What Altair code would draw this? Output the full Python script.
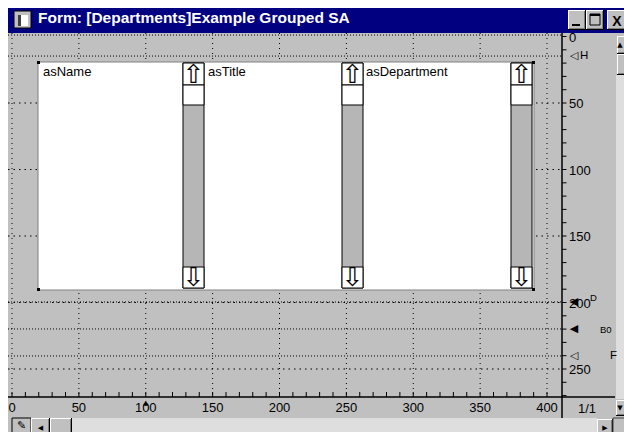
import altair as alt
import pandas as pd

# ---------------- data (form designer, ruler units) ----------------
title_text = "Form: [Departments]Example Grouped SA"
field_names = ["asName", "asTitle", "asDepartment"]
x_ruler_labels = [0, 50, 100, 150, 200, 250, 300, 350, 400]
y_ruler_labels = [0, 50, 100, 150, 200, 250]
x_ruler_ticks = list(range(0, 401, 10))
y_ruler_ticks = list(range(0, 271, 10))
section_names = ["H", "D", "B0", "F"]
section_pos = [14.7, 199.6, 219.9, 240.2]
section_markers = ["\u25c1", "\u25c0", "\u25c0", "\u25c1"]
page_label = "1/1"

# ---------------- layout: screen pixels -> ruler units ----------------
X0, SX = 12.0, 1.3375
Y0, SY = 36.5, 1.33


def ux(px):
    return (px - X0) / SX


def vy(py):
    return (py - Y0) / SY


W, H = 616, 424
xs = alt.Scale(domain=[ux(8), ux(8 + W)], nice=False, zero=False)
ys = alt.Scale(domain=[vy(8), vy(8 + H)], nice=False, zero=False, reverse=True)

FACE = "#c0c0c0"
DARK = "#808080"
DITHER = "#dedede"
TRACK = "#b6b6b6"
NAVY = "#000080"

# list box columns (pixels)
col_label_px = [43, 208, 366]
col_sb_px = [(183, 204), (342, 363), (511, 532)]
# section label placement (pixels): x, baseline, size
section_label_px = [(580, 59, 12), (590, 301, 10), (600, 333, 9), (610, 359, 11)]


def R(x0, y0, x1, y1, fill, stroke="transparent", sw=0):
    return dict(x=ux(x0), x2=ux(x1), y=vy(y0), y2=vy(y1), fill=fill, stroke=stroke, sw=sw)


def button(x0, y0, x1, y1):
    return [R(x0, y0, x1, y1, FACE),
            R(x0, y0, x1, y0 + 1, "#ffffff"), R(x0, y0, x0 + 1, y1, "#ffffff"),
            R(x0 + 1, y1 - 2, x1 - 1, y1 - 1, DARK), R(x1 - 2, y0 + 1, x1 - 1, y1 - 1, DARK),
            R(x0, y1 - 1, x1, y1, "#000000"), R(x1 - 1, y0, x1, y1, "#000000")]


def rect_layer(rows):
    df = pd.DataFrame(rows)
    df["i"] = range(len(df))
    return alt.Chart(df).mark_rect().encode(
        x=alt.X("x:Q", scale=xs, axis=None), x2="x2",
        y=alt.Y("y:Q", scale=ys, axis=None), y2="y2",
        fill=alt.Fill("fill:N", scale=None),
        stroke=alt.Stroke("stroke:N", scale=None),
        strokeWidth=alt.StrokeWidth("sw:Q", scale=None),
    )


def rule_layer(rows, **kw):
    df = pd.DataFrame(rows, columns=["x", "y", "x2", "y2", "c", "w"])
    return alt.Chart(df).mark_rule(**kw).encode(
        x=alt.X("x:Q", scale=xs, axis=None), x2="x2",
        y=alt.Y("y:Q", scale=ys, axis=None), y2="y2",
        color=alt.Color("c:N", scale=None),
        strokeWidth=alt.StrokeWidth("w:Q", scale=None),
    )


def text_layer(rows, size, color="#000000", font="Liberation Sans", weight="normal",
               align="left", baseline="alphabetic"):
    df = pd.DataFrame(rows, columns=["x", "y", "t"])
    return alt.Chart(df).mark_text(font=font, fontSize=size, color=color, fontWeight=weight,
                                   align=align, baseline=baseline).encode(
        x=alt.X("x:Q", scale=xs, axis=None), y=alt.Y("y:Q", scale=ys, axis=None), text="t:N")


# ---------------- grid ----------------
grid_v = rule_layer([(u, vy(33), u, vy(397), "#000000", 1) for u in x_ruler_labels],
                    strokeDash=[1, 4])
grid_h = rule_layer([(ux(8), v, ux(562), v, "#000000", 1) for v in y_ruler_labels[1:]],
                    strokeDash=[1.5, 4])
band_lines = rule_layer([(ux(8), v, ux(562), v, "#000000", 1) for v in [-1.1] + section_pos],
                        strokeDash=[1, 2])

# ---------------- controls and window chrome ----------------
main = [R(38, 62, 534, 290, "#ffffff", DARK, 1)]
for a, b in col_sb_px:
    main += [R(a, 63, b, 288, TRACK, "#000000", 1),
             R(a, 63, b, 85, "#ffffff", "#000000", 1),
             R(a, 85, b, 105, "#ffffff", "#000000", 1),
             R(a, 267, b, 288, "#ffffff", "#000000", 1)]
main += [R(37, 61, 40, 64, "#000000"), R(532, 61, 535, 64, "#000000"),
         R(37, 288, 40, 291, "#000000"), R(532, 288, 535, 291, "#000000")]
main += [R(616, 75, 632, 399, DITHER)]
main += button(617, 36, 632, 54) + button(617, 54, 632, 75) + button(616, 400, 632, 416)
main += [R(12, 418, 31, 437, FACE, "#000000", 1)]
main += button(31, 418, 50, 437) + button(50, 418, 72, 437)
main += [R(72, 418, 597, 437, DITHER)]
main += button(597, 419, 613, 437)
rects = rect_layer(main)

ruler_rows = [(ux(562), vy(33), ux(562), vy(418), "#000000", 1.5),
              (ux(8), vy(397), ux(615), vy(397), "#000000", 1.5),
              (ux(613), vy(418), ux(613), vy(440), "#404040", 1),
              (ux(613), vy(418), ux(632), vy(418), "#404040", 1)]
ruler_rows += [(u, vy(392), u, vy(397), "#000000", 1) for u in x_ruler_ticks]
ruler_rows += [(ux(562), v, ux(566.5), v, "#000000", 1) for v in y_ruler_ticks]
ruler = rule_layer(ruler_rows)

x_lab = text_layer([(u, vy(412), str(u)) for u in x_ruler_labels], 13, align="center")
y_lab = text_layer([(ux(569), v + 5 / SY, str(v)) for v in y_ruler_labels], 13)
page = text_layer([(ux(578), vy(413), page_label)], 13)
sec_mark = text_layer([(ux(574), v, m) for v, m in zip(section_pos, section_markers)], 11,
                      font="DejaVu Sans", align="center", baseline="middle")
sec_lab = text_layer([(ux(px), vy(py), n) for (px, py, s), n in zip(section_label_px, section_names)
                      if s >= 11], 11.5)
sec_lab_small = text_layer([(ux(px), vy(py), n) for (px, py, s), n in zip(section_label_px, section_names)
                            if s < 11], 9.5)
pin = text_layer([(100, vy(403), "\u25b2")], 7, font="DejaVu Sans", align="center", baseline="middle")

labels = text_layer([(ux(px), vy(76), n) for px, n in zip(col_label_px, field_names)], 13)
arrows = text_layer([((ux(a) + ux(b)) / 2, vy(74.5), "\u21e7") for a, b in col_sb_px] +
                    [((ux(a) + ux(b)) / 2, vy(278), "\u21e9") for a, b in col_sb_px],
                    26, font="DejaVu Sans", align="center", baseline="middle")
small_arrows = text_layer([(ux(620), vy(45), "\u25b2"), (ux(620), vy(408), "\u25bc"),
                           (ux(40.5), vy(427.5), "\u25c0"), (ux(605), vy(427.5), "\u25b6")],
                          7, font="DejaVu Sans", align="center", baseline="middle")
pen = text_layer([(ux(21.5), vy(426), "\u270e")], 11, font="DejaVu Sans", align="center",
                 baseline="middle")

# ---------------- title bar ----------------
title_rows = [R(8, 8, 632, 33, NAVY),
              R(14, 11, 31, 28, FACE, "#000000", 1), R(18, 15, 28, 26, "#ffffff"),
              R(18, 15, 21, 26, "#404040")]
title_rows += button(568, 10, 586, 30) + button(586, 10, 604, 30) + button(607, 10, 629, 30)
title_rows += [R(572, 24, 580, 26, "#000000"),
               R(590, 14, 600, 25, "transparent", "#000000", 1), R(590, 14, 600, 16, "#000000")]
title_rects = rect_layer(title_rows)
title = text_layer([(ux(38), vy(22.5), title_text)], 15.5, color="#ffffff", weight="bold")
close_x = text_layer([(ux(617), vy(25.5), "X")], 14, weight="bold", align="center")

chart = alt.layer(
    grid_v, grid_h, band_lines, rects, ruler, x_lab, y_lab, page, sec_mark, sec_lab,
    sec_lab_small, pin, labels, arrows, small_arrows, pen, title_rects, title, close_x
).properties(
    width=W, height=H, padding=0, background=FACE,
    autosize=alt.AutoSizeParams(type="none"),
).configure_view(stroke=None, fill=FACE)

chart.save("out.html", embed_options={"renderer": "svg", "actions": False})
